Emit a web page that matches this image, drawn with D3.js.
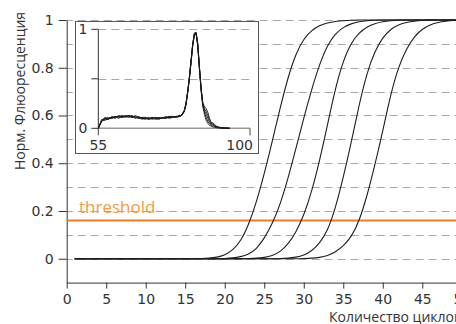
<!DOCTYPE html>
<html><head><meta charset="utf-8">
<script src="https://cdn.jsdelivr.net/npm/d3@7"></script>
<style>
html,body{margin:0;padding:0;background:#fff;overflow:hidden}
svg{display:block}
</style></head>
<body><svg id="c" width="456" height="324"></svg>
<script>
// ---- main amplification data (normalized fluorescence per cycle) ----
const cycles = [1,2,3,4,5,6,7,8,9,10,11,12,13,14,15,16,17,18,19,20,21,22,23,24,25,26,27,28,29,30,31,32,33,34,35,36,37,38,39,40,41,42,43,44,45,46,47,48,49,50];
const curve1 = [0,0,0,0,0,0,0,0,0,0,0,0,0,0,0,0,0.0005,0.002,0.006,0.015,0.035,0.072,0.14,0.235,0.355,0.49,0.63,0.76,0.86,0.922,0.957,0.977,0.988,0.994,0.997,0.999,1,1,1,1,1,1,1,1,1,1,1,1,1,1];
const curve2 = [0,0,0,0,0,0,0,0,0,0,0,0,0,0,0,0,0,0,0,0.001,0.003,0.008,0.018,0.04,0.085,0.145,0.225,0.335,0.46,0.59,0.71,0.815,0.895,0.943,0.97,0.985,0.993,0.997,0.999,1,1,1,1,1,1,1,1,1,1,1];
const curve3 = [0,0,0,0,0,0,0,0,0,0,0,0,0,0,0,0,0,0,0,0,0,0,0.001,0.002,0.005,0.012,0.028,0.06,0.11,0.18,0.28,0.41,0.56,0.715,0.83,0.905,0.947,0.971,0.985,0.993,0.997,0.999,1,1,1,1,1,1,1,1];
const curve4 = [0,0,0,0,0,0,0,0,0,0,0,0,0,0,0,0,0,0,0,0,0,0,0,0,0,0,0.001,0.002,0.006,0.014,0.032,0.065,0.115,0.21,0.34,0.485,0.645,0.78,0.87,0.928,0.962,0.98,0.99,0.995,0.998,1,1,1,1,1];
const curve5 = [0,0,0,0,0,0,0,0,0,0,0,0,0,0,0,0,0,0,0,0,0,0,0,0,0,0,0,0,0,0.001,0.002,0.005,0.012,0.028,0.053,0.09,0.155,0.262,0.392,0.535,0.69,0.805,0.88,0.932,0.962,0.98,0.99,0.995,0.998,1];
const threshold = 0.16;
const xTicks = [0,5,10,15,20,25,30,35,40,45,50];
const yTicks = [0,0.2,0.4,0.6,0.8,1];
const yTickLabels = ["0","0.2","0.4","0.6","0.8","1"];
const gridValues = [0,0.1,0.2,0.3,0.4,0.5,0.6,0.7,0.8,0.9,1];

// ---- inset melt-curve data ----
const temps = [55,56,57,58,59,60,61,62,63,64,65,66,67,68,69,70,71,72,73,74,75,76,77,78,78.5,79,79.5,80,80.5,81,81.5,82,82.5,83,83.5,84,84.5,85,85.5,86,86.5,87,87.5,88,88.5,89,89.5,90,90.5,91,92,93,94];
const melt1 = [0.00,0.08,0.10,0.09,0.12,0.11,0.12,0.11,0.13,0.12,0.11,0.12,0.10,0.11,0.10,0.09,0.11,0.10,0.11,0.10,0.11,0.12,0.11,0.12, 0.12,0.12,0.13,0.14,0.17,0.24,0.36,0.50,0.67,0.84,0.95,0.96,0.84,0.60,0.38,0.22,0.14,0.08,0.05,0.03,0.02,0.015,0.01,0.006,0.004,0.003,0.001,0,0];
const melt2 = [0.00,0.07,0.09,0.11,0.10,0.12,0.10,0.12,0.12,0.11,0.13,0.11,0.11,0.09,0.11,0.10,0.10,0.09,0.10,0.11,0.10,0.11,0.12,0.11, 0.12,0.13,0.13,0.15,0.18,0.25,0.37,0.51,0.68,0.85,0.95,0.95,0.83,0.60,0.39,0.23,0.16,0.11,0.07,0.045,0.03,0.025,0.017,0.01,0.007,0.005,0.002,0.001,0];
const melt3 = [0.00,0.09,0.08,0.10,0.11,0.10,0.13,0.12,0.11,0.13,0.12,0.10,0.12,0.10,0.09,0.11,0.09,0.11,0.10,0.10,0.12,0.10,0.11,0.12, 0.11,0.12,0.12,0.14,0.17,0.23,0.35,0.50,0.66,0.83,0.94,0.96,0.85,0.61,0.40,0.24,0.18,0.14,0.10,0.06,0.04,0.035,0.024,0.014,0.009,0.006,0.003,0.001,0];
const melt4 = [0.00,0.08,0.11,0.10,0.10,0.12,0.11,0.13,0.12,0.12,0.11,0.13,0.11,0.10,0.10,0.10,0.11,0.10,0.09,0.11,0.10,0.12,0.12,0.11, 0.12,0.12,0.13,0.14,0.18,0.24,0.36,0.49,0.66,0.84,0.96,0.97,0.85,0.62,0.40,0.25,0.20,0.17,0.13,0.08,0.05,0.045,0.03,0.018,0.012,0.008,0.004,0.002,0];
const melt5 = [0.00,0.07,0.10,0.09,0.11,0.11,0.12,0.11,0.12,0.13,0.12,0.11,0.10,0.11,0.11,0.09,0.10,0.11,0.10,0.10,0.11,0.11,0.11,0.12, 0.12,0.13,0.13,0.15,0.18,0.25,0.37,0.51,0.68,0.85,0.96,0.97,0.86,0.62,0.41,0.26,0.22,0.20,0.16,0.10,0.06,0.055,0.04,0.022,0.015,0.01,0.005,0.002,0];
const insetXTicks = [55,100];
const insetYTicks = [0,0.5,1];
const insetYLabels = ["0","","1"];
const insetGrid = [0.5,1];

const svg = d3.select("#c");
const tickFont = "DejaVu Sans, sans-serif";
const labelFont = "Open Sans, sans-serif";

const x = d3.scaleLinear().domain([0,50]).range([66.7,461.8]);
const y = d3.scaleLinear().domain([-0.1,1]).range([282.6,20]);

// gridlines
svg.append("g").selectAll("line").data(gridValues).join("line")
  .attr("x1", x(0)).attr("x2", 470)
  .attr("y1", d => Math.round(y(d))+0.5).attr("y2", d => Math.round(y(d))+0.5)
  .attr("stroke", "#a8a8a8").attr("stroke-width", 1)
  .attr("stroke-dasharray", "8,5").attr("stroke-dashoffset", 2);

// axes
const yAxis = d3.axisLeft(y).tickValues(yTicks).tickFormat((d,i)=>yTickLabels[i])
  .tickSize(8).tickSizeOuter(0).tickPadding(5);
const gy = svg.append("g").attr("transform", `translate(${x(0)},0)`).call(yAxis);
const xAxis = d3.axisBottom(x).tickValues(xTicks).tickSize(6).tickSizeOuter(0).tickPadding(5);
const gx = svg.append("g").attr("transform", `translate(0,${y(-0.1)})`).call(xAxis);
[gx, gy].forEach(g => {
  g.select(".domain").attr("stroke", "#333");
  g.selectAll(".tick line").attr("stroke", "#333");
  g.selectAll(".tick text").attr("fill", "#333").style("font-family", tickFont).style("font-size", "14px");
});

// threshold
svg.append("line").attr("x1", x(0)).attr("x2", 470)
  .attr("y1", y(threshold)).attr("y2", y(threshold))
  .attr("stroke", "#f07a26").attr("stroke-width", 2);
svg.append("text").attr("x", 79).attr("y", 213).text("threshold")
  .attr("fill", "#f59a45").style("font-family", labelFont).style("font-size", "17px");

// curves
const line = d3.line().x((d,i)=>x(cycles[i])).y(d=>y(d)).curve(d3.curveBasis);
svg.append("g").selectAll("path").data([curve1,curve2,curve3,curve4,curve5]).join("path")
  .attr("d", line).attr("fill", "none").attr("stroke", "#1e1e1e").attr("stroke-width", 1.1);

// axis titles
svg.append("text").attr("transform", "translate(25,91) rotate(-90)").attr("text-anchor", "middle")
  .text("Норм. Флюоресценция").attr("fill", "#333").style("font-family", labelFont).style("font-size", "14px");
svg.append("text").attr("x", 329).attr("y", 322).text("Количество циклов")
  .attr("fill", "#333").style("font-family", labelFont).style("font-size", "14px");

// ---- inset ----
const ins = svg.append("g");
ins.append("rect").attr("x", 75.5).attr("y", 21.5).attr("width", 183).attr("height", 132)
  .attr("fill", "#fff").attr("stroke", "#555").attr("stroke-width", 1);
const ix = d3.scaleLinear().domain([55,100]).range([98.3,250]);
const iy = d3.scaleLinear().domain([0,1]).range([128.3,29.3]);
ins.append("g").selectAll("line").data(insetGrid).join("line")
  .attr("x1", ix(55)).attr("x2", 252).attr("y1", d=>Math.round(iy(d))+0.5).attr("y2", d=>Math.round(iy(d))+0.5)
  .attr("stroke", "#a8a8a8").attr("stroke-dasharray", "8,5");
ins.append("line").attr("x1", ix(55)).attr("x2", ix(100)).attr("y1", iy(0)).attr("y2", iy(0))
  .attr("stroke", "#999").attr("stroke-width", 1.5);
ins.selectAll(".ixt").data(insetXTicks).join("line").attr("class","ixt")
  .attr("x1", d=>ix(d)).attr("x2", d=>ix(d)).attr("y1", iy(0)).attr("y2", iy(0)+7).attr("stroke", "#444");
ins.selectAll(".ixl").data(insetXTicks).join("text").attr("class","ixl")
  .attr("x", d=>ix(d)).attr("y", 150).attr("text-anchor", (d,i)=> i===0 ? "middle" : "end")
  .attr("dx", (d,i)=> i===0 ? 0 : 3)
  .text(d=>d).attr("fill", "#333").style("font-family", tickFont).style("font-size", "14px");
ins.append("line").attr("x1", ix(55)).attr("x2", ix(55)).attr("y1", iy(1)).attr("y2", iy(0)).attr("stroke", "#333");
ins.selectAll(".iyt").data(insetYTicks).join("line").attr("class","iyt")
  .attr("x1", ix(55)-7).attr("x2", ix(55)).attr("y1", d=>iy(d)).attr("y2", d=>iy(d)).attr("stroke", "#333");
ins.selectAll(".iyl").data(insetYTicks).join("text").attr("class","iyl")
  .attr("x", ix(55)-11).attr("y", d=>iy(d)).attr("dy", "0.36em").attr("text-anchor", "end")
  .text((d,i)=>insetYLabels[i]).attr("fill", "#333").style("font-family", tickFont).style("font-size", "14px");
const mline = d3.line().x((d,i)=>ix(temps[i])).y(d=>iy(d));
ins.append("g").selectAll("path").data([melt1,melt2,melt3,melt4,melt5]).join("path")
  .attr("d", mline).attr("fill", "none").attr("stroke", "#1a1a1a").attr("stroke-width", 0.9);
</script></body></html>
